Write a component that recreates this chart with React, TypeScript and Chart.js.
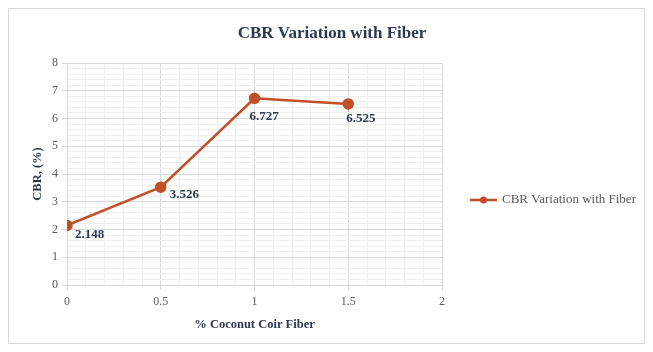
import React, { useEffect, useRef } from "react";
import { Chart, registerables } from "chart.js";

Chart.register(...registerables);

const fiberPercent = [0, 0.5, 1, 1.5];
const cbrValues = [2.148, 3.526, 6.727, 6.525];
const valueLabels = ["2.148", "3.526", "6.727", "6.525"];
const seriesName = "CBR Variation with Fiber";
const chartTitle = "CBR Variation with Fiber";
const xTitle = "% Coconut Coir Fiber";
const yTitle = "CBR, (%)";

const SERIF = "'Liberation Serif', 'DejaVu Serif', serif";
const LINE = "#c04f28";
const DARK = "#2c3a4c";

const labelOffsets = [
  [8, 9],
  [9, 7],
  [-5, 18],
  [-2, 15],
];

const decorPlugin = {
  id: "decor",
  afterDatasetsDraw(chart: any) {
    const ctx = chart.ctx;
    const area = chart.chartArea;
    ctx.save();
    // title
    ctx.fillStyle = DARK;
    ctx.font = `bold 17px ${SERIF}`;
    ctx.textAlign = "center";
    ctx.textBaseline = "middle";
    ctx.fillText(chartTitle, 323, 25);
    // x title
    ctx.font = `bold 12.5px ${SERIF}`;
    ctx.fillText(xTitle, (area.left + area.right) / 2, 316);
    // y title
    ctx.save();
    ctx.translate(29, (area.top + area.bottom) / 2);
    ctx.rotate(-Math.PI / 2);
    ctx.fillText(yTitle, 0, 0);
    ctx.restore();
    // data labels
    const meta = chart.getDatasetMeta(0);
    ctx.font = `bold 13px ${SERIF}`;
    ctx.textAlign = "left";
    meta.data.forEach((pt: any, i: number) => {
      const off = labelOffsets[i] || [8, 10];
      ctx.fillText(valueLabels[i], pt.x + off[0], pt.y + off[1]);
    });
    // legend
    const ly = 191;
    ctx.strokeStyle = LINE;
    ctx.lineWidth = 2.5;
    ctx.beginPath();
    ctx.moveTo(461, ly);
    ctx.lineTo(488, ly);
    ctx.stroke();
    ctx.fillStyle = LINE;
    ctx.beginPath();
    ctx.arc(474.5, ly, 3.5, 0, Math.PI * 2);
    ctx.fill();
    ctx.fillStyle = "#595959";
    ctx.font = `13px ${SERIF}`;
    ctx.textBaseline = "middle";
    ctx.fillText(seriesName, 493, ly);
    ctx.restore();
  },
};

const isMultiple = (v: number, step: number) =>
  Math.abs(v / step - Math.round(v / step)) < 1e-6;

export default function App() {
  const ref = useRef<HTMLCanvasElement | null>(null);
  useEffect(() => {
    if (!ref.current) return;
    const chart = new Chart(ref.current, {
      type: "line",
      data: {
        datasets: [
          {
            label: seriesName,
            data: fiberPercent.map((x, i) => ({ x, y: cbrValues[i] })),
            borderColor: LINE,
            backgroundColor: LINE,
            borderWidth: 2.5,
            pointRadius: 4.5,
            pointBackgroundColor: LINE,
            pointBorderColor: LINE,
            tension: 0,
          },
        ],
      },
      options: {
        animation: false,
        responsive: true,
        maintainAspectRatio: false,
        layout: { padding: { top: 54, right: 202, left: 0, bottom: 0 } },
        plugins: {
          legend: { display: false },
          title: { display: false },
          tooltip: { enabled: false },
        },
        scales: {
          x: {
            type: "linear",
            min: 0,
            max: 2,
            afterFit: (s: any) => {
              s.height = 58;
            },
            ticks: {
              stepSize: 0.1,
              autoSkip: false,
              maxRotation: 0,
              padding: 5,
              color: "#595959",
              font: { family: SERIF, size: 12 },
              callback: (v: any) => (isMultiple(Number(v), 0.5) ? String(Math.round(Number(v) * 10) / 10) : ""),
            },
            grid: {
              color: (c: any) => (isMultiple(c.tick?.value ?? 0, 0.5) ? "#d9d9d9" : "#f0f0f0"),
              tickColor: (c: any) => (isMultiple(c.tick?.value ?? 0, 0.5) ? "#d9d9d9" : "rgba(0,0,0,0)"),
              tickLength: 5,
            },
            border: { color: "#d9d9d9" },
          },
          y: {
            min: 0,
            max: 8,
            afterFit: (s: any) => {
              s.width = 58;
            },
            ticks: {
              stepSize: 0.2,
              autoSkip: false,
              padding: 4,
              color: "#595959",
              font: { family: SERIF, size: 12 },
              callback: (v: any) => (isMultiple(Number(v), 1) ? String(Math.round(Number(v))) : ""),
            },
            grid: {
              color: (c: any) => (isMultiple(c.tick?.value ?? 0, 1) ? "#d9d9d9" : "#f0f0f0"),
              tickColor: (c: any) => (isMultiple(c.tick?.value ?? 0, 1) ? "#d9d9d9" : "rgba(0,0,0,0)"),
              tickLength: 5,
            },
            border: { color: "#d9d9d9" },
          },
        },
      },
      plugins: [decorPlugin],
    } as any);
    return () => chart.destroy();
  }, []);
  return (
    <div
      style={{
        width: 637,
        height: 336,
        boxSizing: "border-box",
        border: "1px solid #d9d9d9",
        background: "#fff",
      }}
    >
      <canvas ref={ref} />
    </div>
  );
}
